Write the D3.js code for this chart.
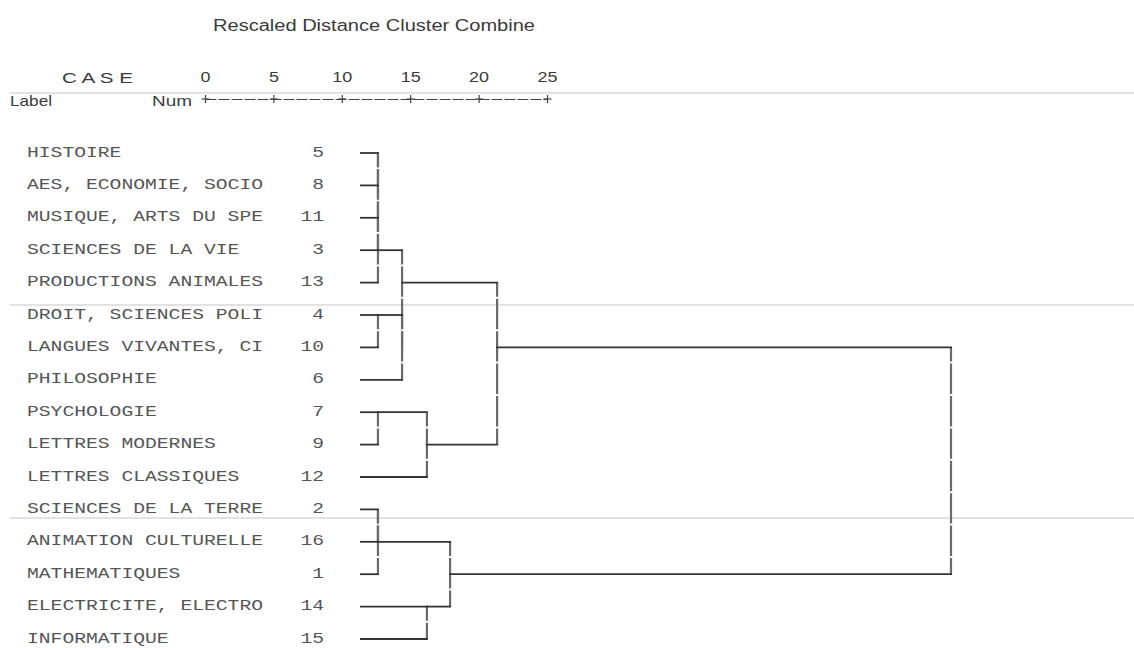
<!DOCTYPE html>
<html>
<head>
<meta charset="utf-8">
<script src="https://cdn.jsdelivr.net/npm/d3@7"></script>
<style>
  html, body { margin: 0; padding: 0; background: #fff; }
  svg { display: block; }
</style>
</head>
<body>
<svg id="chart" width="1134" height="648"></svg>
<script>
// ---- data ----
const title = "Rescaled Distance Cluster Combine";
const axisTicks = [0, 5, 10, 15, 20, 25];
const caseLabels = [
  "HISTOIRE", "AES, ECONOMIE, SOCIO", "MUSIQUE, ARTS DU SPE", "SCIENCES DE LA VIE",
  "PRODUCTIONS ANIMALES", "DROIT, SCIENCES POLI", "LANGUES VIVANTES, CI", "PHILOSOPHIE",
  "PSYCHOLOGIE", "LETTRES MODERNES", "LETTRES CLASSIQUES", "SCIENCES DE LA TERRE",
  "ANIMATION CULTURELLE", "MATHEMATIQUES", "ELECTRICITE, ELECTRO", "INFORMATIQUE"
];
const caseNums = [5, 8, 11, 3, 13, 4, 10, 6, 7, 9, 12, 2, 16, 1, 14, 15];
// agglomeration schedule: cluster ids "cN" = case N, "mK" = merge K
const mergeIds     = ["m1","m2","m3","m4","m5","m6","m7","m8","m9","m10","m11","m12","m13","m14","m15"];
const mergeLeft    = ["c5","m1","m2","m3","c4","c7","c2","m7","m5","m4","m6","c14","m8","m10","m14"];
const mergeRight   = ["c8","c11","c3","c13","c10","c9","c16","c1","c6","m9","c12","c15","m12","m11","m13"];
const mergeHeights = [0.76,0.76,0.76,0.76,0.76,0.76,0.76,0.76,1.78,1.78,2.83,2.83,3.81,5.80,25];

// ---- drawing ----
const svg = d3.select("#chart");
svg.append("rect").attr("width", 1134).attr("height", 648).attr("fill", "#fff");

const axisX = d3.scaleLinear().domain([0, 25]).range([205, 547]);
const treeX = d3.scaleLinear().domain([0, 25]).range([360, 951]);
const rowY = d3.scalePoint().domain(d3.range(caseNums.length)).range([153, 639]);

// page separator lines (scan artefacts)
const sepY = [93, 305, 518];
svg.append("g").selectAll("line").data(sepY).join("line")
  .attr("x1", 10).attr("x2", 1134).attr("y1", d => d).attr("y2", d => d)
  .attr("stroke", "#d8d8d8").attr("stroke-width", 1.6);

// header texts
const sans = "'Liberation Sans', Arial, sans-serif";
const mono = "'Liberation Mono', 'Courier New', monospace";
svg.append("text").text(title)
  .attr("x", 213).attr("y", 25).attr("dominant-baseline", "central")
  .attr("font-family", sans).attr("font-size", 16).attr("fill", "#3a3a3a")
  .attr("textLength", 322).attr("lengthAdjust", "spacingAndGlyphs");
svg.append("text").text("C A S E")
  .attr("x", 62).attr("y", 77).attr("dominant-baseline", "central")
  .attr("font-family", sans).attr("font-size", 15).attr("fill", "#3a3a3a")
  .attr("textLength", 71).attr("lengthAdjust", "spacingAndGlyphs");
svg.append("text").text("Label")
  .attr("x", 10).attr("y", 100).attr("dominant-baseline", "central")
  .attr("font-family", sans).attr("font-size", 15).attr("fill", "#3a3a3a")
  .attr("textLength", 42).attr("lengthAdjust", "spacingAndGlyphs");
svg.append("text").text("Num")
  .attr("x", 152).attr("y", 100).attr("dominant-baseline", "central")
  .attr("font-family", sans).attr("font-size", 15).attr("fill", "#3a3a3a")
  .attr("textLength", 40).attr("lengthAdjust", "spacingAndGlyphs");

// axis
const axisG = svg.append("g").attr("transform", "translate(0,99)")
  .call(d3.axisTop(axisX).tickValues(axisTicks).tickSize(0).tickSizeOuter(0).tickPadding(17));
axisG.attr("font-family", sans).attr("font-size", 15);
axisG.select(".domain").attr("stroke", "#444").attr("stroke-width", 1).attr("stroke-dasharray", "11,2");
axisG.selectAll(".tick text").attr("fill", "#3a3a3a")
  .attr("textLength", d => String(d).length * 10).attr("lengthAdjust", "spacingAndGlyphs");
axisG.selectAll(".tick").each(function() {
  const t = d3.select(this);
  t.append("line").attr("x1", -4).attr("x2", 4).attr("y1", 0).attr("y2", 0).attr("stroke", "#444").attr("stroke-width", 1.2);
  t.append("line").attr("x1", 0).attr("x2", 0).attr("y1", -4).attr("y2", 4).attr("stroke", "#444").attr("stroke-width", 1.2);
});

// case labels and numbers
const charW = 11.8;
const rows = svg.append("g");
rows.selectAll("text.lab").data(caseLabels).join("text").attr("class", "lab")
  .text(d => d)
  .attr("x", 27).attr("y", (d, i) => rowY(i)).attr("dominant-baseline", "central")
  .attr("font-family", mono).attr("font-size", 15).attr("fill", "#555")
  .attr("textLength", d => d.length * charW).attr("lengthAdjust", "spacingAndGlyphs");
rows.selectAll("text.num").data(caseNums).join("text").attr("class", "num")
  .text(d => d)
  .attr("x", 324).attr("y", (d, i) => rowY(i)).attr("dominant-baseline", "central")
  .attr("text-anchor", "end")
  .attr("font-family", mono).attr("font-size", 15).attr("fill", "#555")
  .attr("textLength", d => String(d).length * charW).attr("lengthAdjust", "spacingAndGlyphs");

// build tree nodes
const nodes = new Map();
caseNums.forEach((n, i) => nodes.set("c" + n, { row: i, h: 0 }));
const hSegs = [], vSegs = [];
mergeIds.forEach((id, k) => {
  const a = nodes.get(mergeLeft[k]), b = nodes.get(mergeRight[k]);
  const h = mergeHeights[k];
  const node = { row: Math.floor((a.row + b.row) / 2), h: h };
  nodes.set(id, node);
  vSegs.push({ x: h, r1: Math.min(a.row, b.row), r2: Math.max(a.row, b.row) });
  [a, b].forEach(c => { if (h > c.h) hSegs.push({ x1: c.h, x2: h, r: c.row }); });
});

const step = rowY.step();
const tree = svg.append("g");
tree.selectAll("line.v").data(vSegs).join("line").attr("class", "v")
  .attr("x1", d => treeX(d.x)).attr("x2", d => treeX(d.x))
  .attr("y1", d => rowY(d.r1)).attr("y2", d => rowY(d.r2))
  .attr("stroke", "#6a6a6a").attr("stroke-width", 2.2)
  .attr("stroke-dasharray", `${step - 2},2`).attr("stroke-dashoffset", step / 2);
tree.selectAll("line.h").data(hSegs).join("line").attr("class", "h")
  .attr("x1", d => treeX(d.x1) - (d.x1 > 0 ? 1 : 0)).attr("x2", d => treeX(d.x2) + 1)
  .attr("y1", d => rowY(d.r)).attr("y2", d => rowY(d.r))
  .attr("stroke", "#333").attr("stroke-width", 1.8);
</script>
</body>
</html>
